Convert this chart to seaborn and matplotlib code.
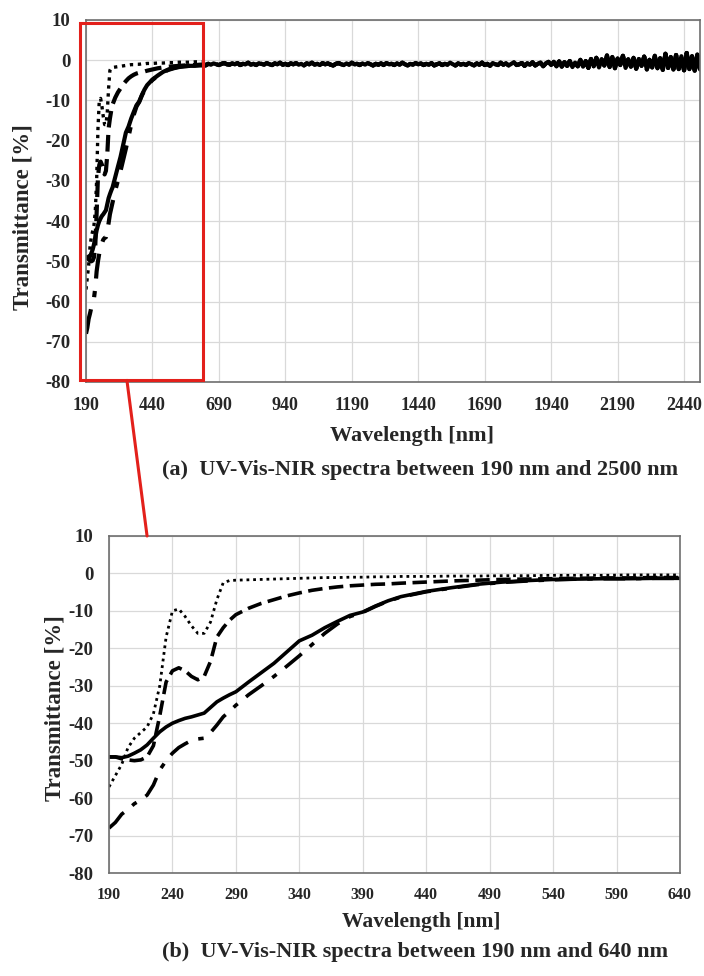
import numpy as np
import pandas as pd
import matplotlib
matplotlib.use('Agg')
import matplotlib.pyplot as plt
import seaborn as sns
from matplotlib.patches import Rectangle, ConnectionPatch

sns.set_theme(style='whitegrid')
plt.rcParams['font.family'] = ['Liberation Serif', 'DejaVu Serif']
plt.rcParams['font.weight'] = 'bold'
plt.rcParams['axes.unicode_minus'] = False

# UV-Vis part
wl_uv = [190, 195, 200, 205, 210, 215, 220, 225, 230, 235, 240, 245, 250, 255, 260,
         265, 270, 275, 280, 285, 290, 300, 310, 320, 330, 340, 350, 360, 370, 380,
         390, 400, 410, 420, 440, 460, 480, 500, 520, 540, 560, 580, 600, 620, 640]
dotted = [-57, -54, -51, -46.5, -44, -42.5, -41, -37.5, -30, -17, -10, -9.5, -11.5, -14, -16,
          -16, -13, -7, -2.5, -1.9, -1.8, -1.7, -1.6, -1.5, -1.4, -1.3, -1.2, -1.1, -1.1, -1.0,
          -1.0, -0.9, -0.9, -0.8, -0.8, -0.7, -0.7, -0.6, -0.6, -0.5, -0.5, -0.5, -0.4, -0.4, -0.4]
dashed = [-49, -49, -49.5, -49.8, -50, -49.8, -49, -46, -38, -29, -26, -25.2, -26, -27.5, -28.4,
          -27.5, -23.5, -17, -14.5, -12.5, -11, -9.3, -8, -7, -6, -5.2, -4.5, -4, -3.6, -3.3,
          -3.1, -2.9, -2.8, -2.6, -2.3, -2.0, -1.8, -1.6, -1.5, -1.4, -1.3, -1.2, -1.2, -1.1, -1.1]
solid = [-49, -49, -49.2, -48.8, -48, -47.1, -45.8, -44, -42.3, -41, -40, -39.3, -38.7, -38.3, -37.8,
         -37.3, -35.8, -34.3, -33.3, -32.4, -31.6, -29, -26.5, -24, -21, -18, -16.5, -14.5, -12.8, -11.2,
         -10.3, -8.7, -7.3, -6.2, -4.8, -3.8, -2.9, -2.3, -1.9, -1.6, -1.5, -1.4, -1.4, -1.3, -1.3]
dashdot = [-68, -66.5, -64.3, -63, -61.5, -60.5, -59.2, -56.5, -52.5, -50, -48, -46.5, -45.5, -44.6, -44.2,
           -44, -42.5, -40.5, -38.3, -36.8, -35.2, -32.4, -30, -27.5, -24.8, -22, -19, -16, -13.5, -11.5,
           -10.4, -8.8, -7.4, -6.3, -4.9, -3.9, -3.0, -2.4, -2.0, -1.7, -1.5, -1.4, -1.4, -1.3, -1.3]

# NIR part, 650-2500 nm every 10 nm (all four curves overlap here)
wl_nir = list(range(650, 2501, 10))
nir = [-0.9, -1.1, -0.8, -1.0, -1.2, -0.9, -0.7, -1.0, -1.1, -0.8,
       -1.0, -0.7, -1.2, -0.9, -1.0, -0.6, -1.1, -0.9, -1.2, -0.8,
       -0.9, -1.1, -0.7, -1.0, -1.2, -0.8, -1.0, -0.6, -1.1, -0.9,
       -1.2, -0.8, -1.0, -0.7, -1.1, -0.9, -1.3, -0.8, -1.0, -0.6,
       -1.1, -0.9, -1.2, -0.7, -1.0, -0.8, -1.1, -1.3, -0.9, -0.7,
       -1.0, -1.2, -0.8, -1.1, -0.6, -1.0, -0.9, -1.2, -0.8, -1.1,
       -0.7, -1.0, -1.3, -0.9, -1.1, -0.8, -1.2, -0.7, -1.0, -0.9,
       -1.2, -0.8, -1.1, -0.6, -1.0, -1.3, -0.9, -1.1, -0.7, -1.0,
       -0.8, -1.2, -0.9, -1.1, -0.7, -1.3, -1.0, -0.8, -1.2, -0.9,
       -1.1, -0.6, -1.0, -1.3, -0.8, -1.1, -0.9, -1.2, -0.7, -1.0,
       -1.3, -0.8, -1.1, -0.6, -1.2, -0.9, -1.4, -0.7, -1.0, -1.2,
       -0.6, -1.1, -0.8, -1.3, -0.9, -0.5, -1.2, -1.0, -0.7, -1.4,
       -0.8, -1.1, -0.5, -1.3, -0.9, -0.6, -1.5, -0.8, -0.4, -1.2,
       -0.4, -1.5, -0.3, -1.6, -0.5, -1.4, -0.2, -1.7, -0.6, -1.5,
       0.1, -1.6, -0.2, -1.9, 0.3, -1.5, 0.6, -1.8, 0.2, -1.3,
       1.2, -1.7, 0.8, -2.0, 0.4, -1.2, 1.1, -1.9, 0.2, -1.6,
       0.6, -2.1, 0.3, -1.4, 0.9, -2.3, 0.1, -1.8, 1.1, -2.0,
       0.5, -2.4, 1.6, -1.9, 0.8, -2.3, 1.3, -2.2, 1.0, -2.5,
       1.8, -2.2, 1.0, -2.6, 1.4, -2.3]

curves = {'dotted': dotted, 'dashed': dashed, 'solid': solid, 'dashdot': dashdot}
styles = {'dotted': (0, (1, 1.4)), 'dashed': (0, (4, 1.8)),
          'solid': '-', 'dashdot': (0, (6, 3, 1.5, 3))}
widths = {'dotted': 2.0, 'dashed': 2.6, 'solid': 2.6, 'dashdot': 2.6}

fig = plt.figure(figsize=(7.04, 9.76), dpi=100)
ax1 = fig.add_axes([86 / 704, 1 - 382 / 976, 614 / 704, 362 / 976])
ax2 = fig.add_axes([109 / 704, 1 - 873 / 976, 571 / 704, 337 / 976])

for name, vals in curves.items():
    full = pd.DataFrame({'wl': wl_uv + wl_nir, 't': vals + nir})
    sns.lineplot(data=full, x='wl', y='t', ax=ax1, color='black',
                 linestyle=styles[name], lw=widths[name] + 0.4)
    part = pd.DataFrame({'wl': wl_uv, 't': vals})
    sns.lineplot(data=part, x='wl', y='t', ax=ax2, color='black',
                 linestyle=styles[name], lw=widths[name])

def style_axes(ax, xlim, xticks, xfs, yfs, xpad, ylab_x, ylab_y):
    ax.set_xlim(*xlim)
    ax.set_ylim(-80, 10)
    ax.set_xticks(xticks)
    ax.set_yticks(range(-80, 11, 10))
    ax.grid(True, color='#d9d9d9', lw=0.9)
    for s in ax.spines.values():
        s.set_color('#6e6e6e')
        s.set_linewidth(1.2)
    ax.tick_params(axis='x', length=0, labelsize=xfs, pad=xpad)
    ax.tick_params(axis='y', length=0, labelsize=yfs, pad=11)
    for lab in ax.get_xticklabels() + ax.get_yticklabels():
        lab.set_fontweight('bold')
    ax.set_xlabel('')
    ax.set_ylabel('Transmittance [%]', fontsize=16.5, fontweight='bold')
    ax.yaxis.set_label_coords(ylab_x, ylab_y)

style_axes(ax1, (190, 2500), range(190, 2441, 250), 13, 13.5, 11, -0.086, 0.456)
style_axes(ax2, (190, 640), range(190, 641, 50), 11.5, 13.5, 10, -0.077, 0.49)

fig.text(412 / 704, 1 - 436 / 976, 'Wavelength [nm]', ha='center', va='center',
         fontsize=16, fontweight='bold')
fig.text(420 / 704, 1 - 470 / 976, '(a)  UV-Vis-NIR spectra between 190 nm and 2500 nm',
         ha='center', va='center', fontsize=16, fontweight='bold')
fig.text(421 / 704, 1 - 922 / 976, 'Wavelength [nm]', ha='center', va='center',
         fontsize=15.5, fontweight='bold')
fig.text(415 / 704, 1 - 952 / 976, '(b)  UV-Vis-NIR spectra between 190 nm and 640 nm',
         ha='center', va='center', fontsize=16, fontweight='bold')

# zoom box and connector
red = '#e3201b'
ax1.add_patch(Rectangle((167, -79.6), 463, 88.9, fill=False, edgecolor=red,
                        lw=2.2, clip_on=False, zorder=5))
con = ConnectionPatch(xyA=(344, -79.6), coordsA=ax1.transData,
                      xyB=(220, 10), coordsB=ax2.transData, color=red, lw=2.2)
fig.add_artist(con)

fig.savefig('out.png', dpi=100, facecolor='white')
